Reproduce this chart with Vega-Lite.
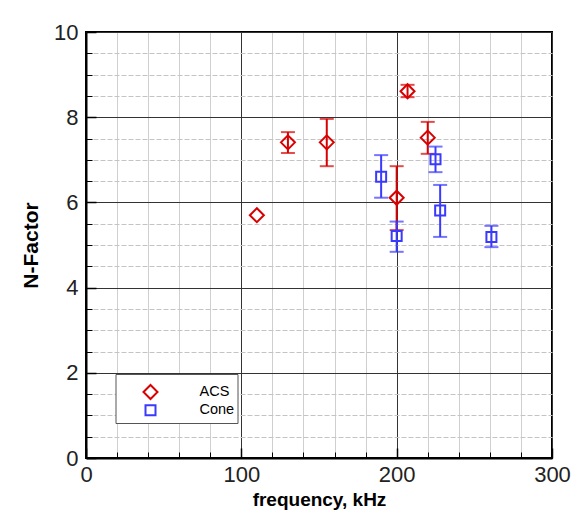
{
  "$schema": "https://vega.github.io/schema/vega-lite/v6.json",
  "autosize": "none",
  "width": 466,
  "height": 426,
  "padding": {"left": 86, "top": 32, "right": 26, "bottom": 56},
  "background": "white",
  "config": {
    "view": {"stroke": "#000", "strokeWidth": 2},
    "font": "Liberation Sans"
  },
  "data": {
    "values": [
      {"series": "ACS", "freq": 110, "n": 5.7, "lo": null, "hi": null},
      {"series": "ACS", "freq": 130, "n": 7.41, "lo": 7.16, "hi": 7.65},
      {"series": "ACS", "freq": 155, "n": 7.41, "lo": 6.85, "hi": 7.96},
      {"series": "ACS", "freq": 200, "n": 6.11, "lo": 5.35, "hi": 6.85},
      {"series": "ACS", "freq": 207, "n": 8.61, "lo": 8.47, "hi": 8.76},
      {"series": "ACS", "freq": 220, "n": 7.52, "lo": 7.14, "hi": 7.89},
      {"series": "Cone", "freq": 190, "n": 6.6, "lo": 6.11, "hi": 7.11},
      {"series": "Cone", "freq": 200, "n": 5.21, "lo": 4.84, "hi": 5.55},
      {"series": "Cone", "freq": 225, "n": 7.01, "lo": 6.71, "hi": 7.31},
      {"series": "Cone", "freq": 228, "n": 5.81, "lo": 5.19, "hi": 6.41},
      {"series": "Cone", "freq": 261, "n": 5.19, "lo": 4.95, "hi": 5.45}
    ]
  },
  "resolve": {"axis": {"x": "independent", "y": "independent"}},
  "layer": [
    {
      "transform": [{"filter": "datum.series === 'ACS' && datum.lo != null"}],
      "mark": {"type": "errorbar", "color": "#d80000", "thickness": 2, "ticks": {"size": 14}},
      "encoding": {
        "x": {"field": "freq", "type": "quantitative", "scale": {"domain": [0, 300], "nice": false, "zero": false},
          "axis": {"orient": "bottom", "values": [20, 40, 60, 80, 120, 140, 160, 180, 220, 240, 260, 280], "grid": true, "gridColor": "#cfcfcf", "gridWidth": 1, "ticks": true, "tickSize": -6, "tickColor": "#000", "tickWidth": 1, "labels": false, "domain": false, "title": null}},
        "y": {"field": "lo", "type": "quantitative", "scale": {"domain": [0, 10], "nice": false, "zero": false},
          "axis": {"orient": "left", "values": [0.5, 1, 1.5, 2.5, 3, 3.5, 4.5, 5, 5.5, 6.5, 7, 7.5, 8.5, 9, 9.5], "grid": true, "gridColor": "#c4c4c4", "gridDash": [5, 2], "gridWidth": 1, "ticks": true, "tickSize": -6, "tickColor": "#000", "tickWidth": 1, "labels": false, "domain": false, "title": null}},
        "y2": {"field": "hi"}
      }
    },
    {
      "transform": [{"filter": "datum.series === 'Cone' && datum.lo != null"}],
      "mark": {"type": "errorbar", "color": "#3a3aff", "thickness": 2, "ticks": {"size": 14}},
      "encoding": {
        "x": {"field": "freq", "type": "quantitative", "axis": null},
        "y": {"field": "lo", "type": "quantitative", "axis": null},
        "y2": {"field": "hi"}
      }
    },
    {
      "mark": {"type": "point", "filled": false, "strokeWidth": 2, "opacity": 1},
      "encoding": {
        "x": {"field": "freq", "type": "quantitative",
          "axis": {"orient": "bottom", "values": [0, 100, 200, 300], "grid": true, "gridColor": "#333", "gridWidth": 1, "ticks": true, "tickSize": -10, "tickColor": "#000", "tickWidth": 1.5, "domain": true, "domainColor": "#000", "domainWidth": 2, "labelFontSize": 22, "labelColor": "#222", "labelPadding": 16, "labelFont": "Liberation Sans", "title": "frequency, kHz", "titleFont": "Liberation Sans", "titleFontSize": 19, "titleFontWeight": "bold", "titleColor": "#000", "titlePadding": 5, "labelFlush": false}},
        "y": {"field": "n", "type": "quantitative",
          "axis": {"orient": "left", "values": [0, 2, 4, 6, 8, 10], "grid": true, "gridColor": "#333", "gridWidth": 1, "ticks": true, "tickSize": -10, "tickColor": "#000", "tickWidth": 1.5, "domain": true, "domainColor": "#000", "domainWidth": 2, "labelFontSize": 22, "labelColor": "#222", "labelPadding": 18, "labelFont": "Liberation Sans", "title": "N-Factor", "titleFont": "Liberation Sans", "titleFontSize": 21, "titleFontWeight": "bold", "titleColor": "#000", "titlePadding": 12, "labelFlush": false}},
        "color": {"field": "series", "type": "nominal", "scale": {"domain": ["ACS", "Cone"], "range": ["#d80000", "#3a3aff"]},
          "legend": {"orient": "none", "legendX": 29.5, "legendY": 342, "title": " ", "titleFontSize": 7, "titlePadding": 0, "padding": 3, "strokeColor": "#555", "fillColor": "#fff", "symbolOffset": 24, "labelOffset": 41, "labelFontSize": 14.5, "labelColor": "#000", "labelFont": "Liberation Sans", "symbolStrokeWidth": 2, "rowPadding": -3}},
        "shape": {"field": "series", "type": "nominal", "scale": {"domain": ["ACS", "Cone"], "range": ["diamond", "square"]},
          "legend": {"orient": "none", "legendX": 29.5, "legendY": 342, "title": " ", "titleFontSize": 7, "titlePadding": 0, "padding": 3, "strokeColor": "#555", "fillColor": "#fff", "symbolOffset": 24, "labelOffset": 41, "labelFontSize": 14.5, "labelColor": "#000", "labelFont": "Liberation Sans", "symbolStrokeWidth": 2, "rowPadding": -3}},
        "size": {"field": "series", "type": "nominal", "scale": {"domain": ["ACS", "Cone"], "range": [196, 100]},
          "legend": {"orient": "none", "legendX": 29.5, "legendY": 342, "title": " ", "titleFontSize": 7, "titlePadding": 0, "padding": 3, "strokeColor": "#555", "fillColor": "#fff", "symbolOffset": 24, "labelOffset": 41, "labelFontSize": 14.5, "labelColor": "#000", "labelFont": "Liberation Sans", "symbolStrokeWidth": 2, "rowPadding": -3}}
      }
    }
  ]
}
